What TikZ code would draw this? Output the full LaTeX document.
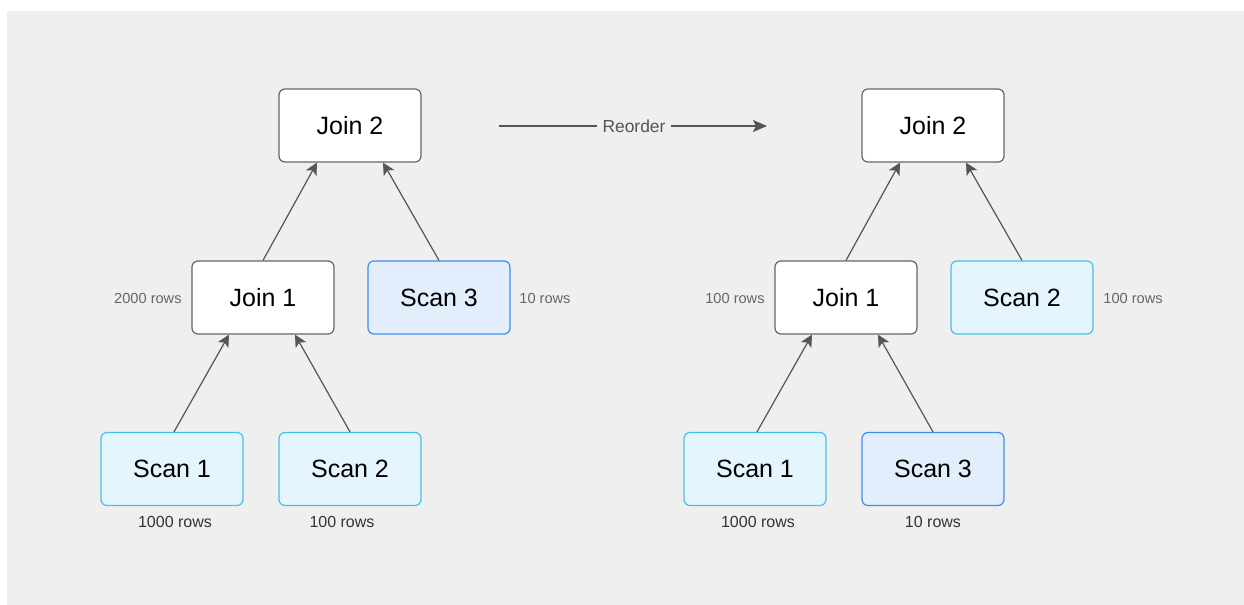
\documentclass[tikz,border=0pt]{standalone}
\usepackage{fontspec}
\setmainfont{Liberation Sans}
\usetikzlibrary{arrows.meta}
\definecolor{bg}{HTML}{EFEFEF}
\definecolor{edge}{HTML}{555555}
\definecolor{joinline}{HTML}{666666}
\definecolor{cyanfill}{HTML}{E5F5FD}
\definecolor{cyanline}{HTML}{45C0E8}
\definecolor{bluefill}{HTML}{E3EEFC}
\definecolor{blueline}{HTML}{3D8EF2}
\definecolor{sidetext}{HTML}{666666}
\definecolor{rowtext}{HTML}{333333}
\tikzset{
  opbox/.style={rounded corners=3pt, line width=0.6pt, minimum width=71pt,
    minimum height=36.5pt, inner sep=0pt, font=\fontsize{12.5}{14}\selectfont, text=black},
  joinbox/.style={opbox, draw=joinline, fill=white},
  scanbox/.style={opbox, draw=cyanline, fill=cyanfill},
  smallscan/.style={opbox, draw=blueline, fill=bluefill},
  feed/.style={draw=edge, line width=0.6pt, -{Stealth[length=6pt,width=6pt,inset=1.5pt]}},
  sidelabel/.style={font=\fontsize{7.3}{9}\selectfont, text=sidetext, inner sep=0pt},
  rowlabel/.style={font=\fontsize{8}{10}\selectfont, text=rowtext, inner sep=0pt},
}
\begin{document}
\begin{tikzpicture}[x=0.5pt, y=-0.5pt]
  \useasboundingbox (0,0) rectangle (1244,605);
  \fill[bg] (7,11) rectangle (1244,605);

  % plan before reordering
  \node[joinbox] (lj2) at (350,125.5) {Join 2};
  \node[joinbox] (lj1) at (263,297.5) {Join 1};
  \node[smallscan] (ls3) at (439,297.5) {Scan 3};
  \node[scanbox] (ls1) at (172,469) {Scan 1};
  \node[scanbox] (ls2) at (350,469) {Scan 2};

  \draw[feed] (lj1.north) -- ([xshift=-16.5pt]lj2.south);
  \draw[feed] (ls3.north) -- ([xshift=16.5pt]lj2.south);
  \draw[feed] ([xshift=1pt]ls1.north) -- ([xshift=-17pt]lj1.south);
  \draw[feed] (ls2.north) -- ([xshift=16pt]lj1.south);

  \node[sidelabel, anchor=east] (lj1rows) at (182,298) {2000 rows};
  \node[sidelabel, anchor=west] (ls3rows) at (519,298) {10 rows};
  \node[rowlabel] (ls1rows) at (175,522) {1000 rows};
  \node[rowlabel] (ls2rows) at (342,522) {100 rows};

  % reorder step
  \coordinate (rstart) at (499,126);
  \coordinate (rend) at (767,126);
  \draw[feed, -{Stealth[length=7pt,width=6pt,inset=1.5pt]}] (rstart) -- (rend);
  \node[fill=bg, inner xsep=3pt, inner ysep=1pt, text=edge,
    font=\fontsize{8.7}{10}\selectfont] (reorder) at (634,126) {Reorder};

  % plan after reordering
  \node[joinbox] (rj2) at (933,125.5) {Join 2};
  \node[joinbox] (rj1) at (846,297.5) {Join 1};
  \node[scanbox] (rs2) at (1022,297.5) {Scan 2};
  \node[scanbox] (rs1) at (755,469) {Scan 1};
  \node[smallscan] (rs3) at (933,469) {Scan 3};

  \draw[feed] (rj1.north) -- ([xshift=-16.5pt]rj2.south);
  \draw[feed] (rs2.north) -- ([xshift=16.5pt]rj2.south);
  \draw[feed] ([xshift=1pt]rs1.north) -- ([xshift=-17pt]rj1.south);
  \draw[feed] (rs3.north) -- ([xshift=16pt]rj1.south);

  \node[sidelabel, anchor=east] (rj1rows) at (765,298) {100 rows};
  \node[sidelabel, anchor=west] (rs2rows) at (1103,298) {100 rows};
  \node[rowlabel] (rs1rows) at (758,522) {1000 rows};
  \node[rowlabel] (rs3rows) at (933,522) {10 rows};
\end{tikzpicture}
\end{document}
